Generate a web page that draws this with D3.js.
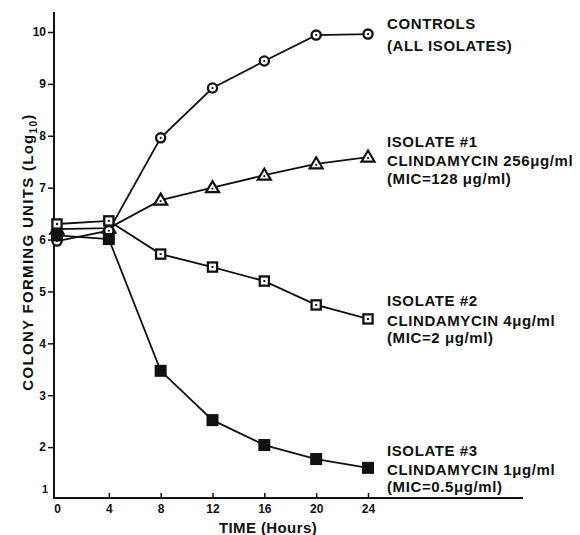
<!DOCTYPE html>
<html>
<head>
<meta charset="utf-8">
<script src="https://cdn.jsdelivr.net/npm/d3@7"></script>
<style>
  html, body { margin: 0; padding: 0; background: #fff; }
  svg { display: block; }
  text { font-family: "Liberation Sans", Arial, sans-serif; font-weight: bold; fill: #111; }
</style>
</head>
<body>
<svg id="chart" width="580" height="535"></svg>
<script>
// ---- data ----
const hours = [0, 4, 8, 12, 16, 20, 24];
const controls = [5.97, 6.17, 7.96, 8.92, 9.44, 9.94, 9.96];
const isolate1 = [6.20, 6.22, 6.76, 7.00, 7.24, 7.46, 7.59];
const isolate2 = [6.30, 6.36, 5.72, 5.47, 5.20, 4.74, 4.47];
const isolate3 = [6.08, 6.01, 3.47, 2.52, 2.04, 1.77, 1.60];
const xTicks = [0, 4, 8, 12, 16, 20, 24];
const yTicks = [2, 3, 4, 5, 6, 7, 8, 9, 10];
const seriesNames = ["isolate1", "controls", "isolate2", "isolate3"];
const seriesLabels = {
  controls: ["CONTROLS", "(ALL ISOLATES)"],
  isolate1: ["ISOLATE #1", "CLINDAMYCIN 256μg/ml", "(MIC=128 μg/ml)"],
  isolate2: ["ISOLATE #2", "CLINDAMYCIN 4μg/ml", "(MIC=2 μg/ml)"],
  isolate3: ["ISOLATE #3", "CLINDAMYCIN 1μg/ml", "(MIC=0.5μg/ml)"]
};
const seriesValues = { controls, isolate1, isolate2, isolate3 };

// ---- layout ----
const svg = d3.select("#chart");
const x = d3.scaleLinear().domain([0, 24]).range([57, 368]);
const y = d3.scaleLinear().domain([1, 10]).range([499, 32]);
const axisX = 54, axisTop = 12, axisBottom = 498, axisRight = 523;

// axis lines
svg.append("line").attr("x1", axisX).attr("x2", axisX).attr("y1", axisTop).attr("y2", axisBottom)
  .attr("stroke", "#111").attr("stroke-width", 2);
svg.append("line").attr("x1", axisX - 1).attr("x2", axisRight).attr("y1", axisBottom).attr("y2", axisBottom)
  .attr("stroke", "#111").attr("stroke-width", 2);

// y axis ticks
const yAxis = d3.axisLeft(y).tickValues(yTicks).tickSize(6).tickPadding(2).tickFormat(d3.format("d"));
const gy = svg.append("g").attr("transform", `translate(${axisX},0)`).call(yAxis);
gy.select(".domain").remove();
gy.selectAll(".tick line").attr("stroke", "#111").attr("stroke-width", 1.5);
gy.selectAll(".tick text").attr("font-size", 12).attr("font-family", "Liberation Sans, Arial, sans-serif")
  .attr("font-weight", "bold").attr("fill", "#111");
// "1" label at the origin
svg.append("text").attr("x", 48).attr("y", 493).attr("text-anchor", "end").attr("font-size", 11).text("1");

// x axis ticks (pointing up)
const xAxis = d3.axisBottom(x).tickValues(xTicks).tickSize(0).tickPadding(6).tickFormat(d3.format("d"));
const gx = svg.append("g").attr("transform", `translate(0,${axisBottom})`).call(xAxis);
gx.select(".domain").remove();
gx.selectAll(".tick").append("line").attr("y1", 0).attr("y2", d => d === 0 ? 0 : -5)
  .attr("stroke", "#111").attr("stroke-width", 1.5);
gx.selectAll(".tick text").attr("font-size", 12).attr("font-family", "Liberation Sans, Arial, sans-serif")
  .attr("font-weight", "bold").attr("fill", "#111");

// axis titles
svg.append("text").attr("x", 268).attr("y", 533).attr("text-anchor", "middle")
  .attr("font-size", 15).attr("letter-spacing", 0.4).text("TIME (Hours)");
const yt = svg.append("text").attr("transform", "translate(33,252) rotate(-90)")
  .attr("text-anchor", "middle").attr("font-size", 15).attr("letter-spacing", 1.3);
yt.append("tspan").text("COLONY FORMING UNITS (Log");
yt.append("tspan").attr("font-size", 10).attr("dy", 4).text("10");
yt.append("tspan").attr("dy", -4).text(")");

// lines
const line = d3.line().x((d, i) => x(hours[i])).y(d => y(d));
seriesNames.forEach(name => {
  svg.append("path").datum(seriesValues[name]).attr("d", line)
    .attr("fill", "none").attr("stroke", "#111").attr("stroke-width", 1.8);
});

// markers
function drawMarkers(name) {
  const g = svg.append("g");
  const vals = seriesValues[name];
  vals.forEach((v, i) => {
    const cx = x(hours[i]), cy = y(v);
    const m = g.append("g").attr("transform", `translate(${cx},${cy})`);
    if (name === "controls") {
      m.append("circle").attr("r", 4.6).attr("fill", "#fff").attr("stroke", "#111").attr("stroke-width", 2.3);
      m.append("circle").attr("r", 1.1).attr("fill", "#111");
    } else if (name === "isolate1") {
      m.append("path").attr("d", "M0,-6.5 L6.5,4.5 L-6.5,4.5 Z").attr("fill", "#fff")
        .attr("stroke", "#111").attr("stroke-width", 2.2).attr("stroke-linejoin", "miter");
      m.append("circle").attr("cy", 1).attr("r", 1.1).attr("fill", "#111");
    } else if (name === "isolate2") {
      m.append("rect").attr("x", -4.6).attr("y", -4.6).attr("width", 9.2).attr("height", 9.2)
        .attr("fill", "#fff").attr("stroke", "#111").attr("stroke-width", 2.3);
      m.append("rect").attr("x", -1).attr("y", -1).attr("width", 2).attr("height", 2).attr("fill", "#111");
    } else {
      m.append("rect").attr("x", -6).attr("y", -6).attr("width", 12).attr("height", 12).attr("fill", "#111");
    }
  });
}
seriesNames.forEach(drawMarkers);

// right-side labels
const labelX = 387;
const labelBaselines = {
  controls: [29, 51],
  isolate1: [147, 166, 184],
  isolate2: [306, 326, 343],
  isolate3: [456, 475, 492]
};
Object.keys(seriesLabels).forEach(name => {
  seriesLabels[name].forEach((t, i) => {
    svg.append("text").attr("x", labelX).attr("y", labelBaselines[name][i])
      .attr("font-size", 15).attr("letter-spacing", 0.6).text(t);
  });
});
</script>
</body>
</html>
